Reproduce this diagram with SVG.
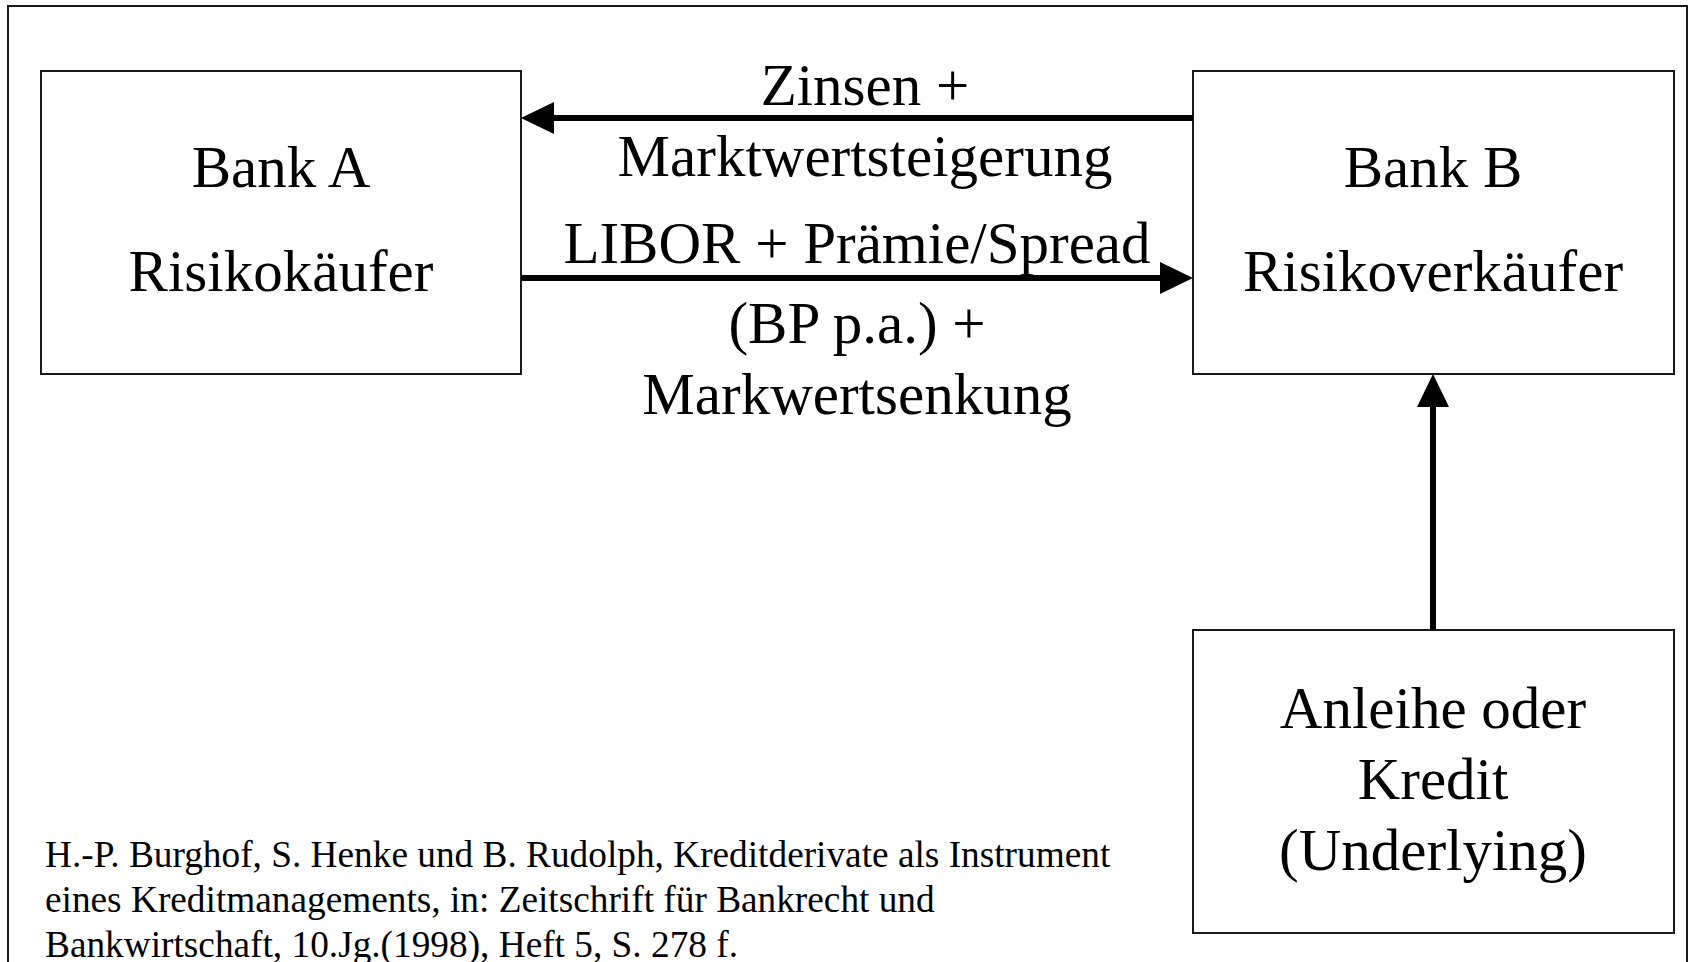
<svg xmlns="http://www.w3.org/2000/svg" width="1692" height="962" viewBox="0 0 1692 962">
  <style>
    .frame { fill: none; stroke: #1a1a1a; stroke-width: 2; }
    .box { fill: #ffffff; stroke: #1a1a1a; stroke-width: 2; }
    .big { font-family: "Liberation Serif", "Times New Roman", serif; font-size: 59px; fill: #000; text-anchor: middle; }
    .note { font-family: "Liberation Serif", "Times New Roman", serif; font-size: 37.3px; fill: #000; }
    .flow { stroke: #000; stroke-width: 6; fill: none; marker-end: url(#head); }
  </style>
  <defs>
    <marker id="head" markerUnits="userSpaceOnUse" markerWidth="33" markerHeight="32" refX="0" refY="16" orient="auto" viewBox="0 0 33 32">
      <path d="M0,0 L33,16 L0,32 Z" fill="#000"/>
    </marker>
  </defs>

  <rect class="frame" x="8" y="6" width="1679" height="970"/>

  <g id="bank-a">
    <rect class="box" x="41" y="71" width="480" height="303"/>
    <text class="big" x="281" y="187">Bank A</text>
    <text class="big" x="281" y="291">Risikokäufer</text>
  </g>

  <g id="bank-b">
    <rect class="box" x="1193" y="71" width="481" height="303"/>
    <text class="big" x="1433" y="187">Bank B</text>
    <text class="big" x="1433" y="291">Risikoverkäufer</text>
  </g>

  <g id="underlying">
    <rect class="box" x="1193" y="630" width="481" height="303"/>
    <text class="big" x="1433" y="728">Anleihe oder</text>
    <text class="big" x="1433" y="799">Kredit</text>
    <text class="big" x="1433" y="870">(Underlying)</text>
  </g>

  <g id="connectors">
    <line class="flow" x1="1193" y1="118" x2="554" y2="118"/>
    <line class="flow" x1="521" y1="278" x2="1160" y2="278"/>
    <line class="flow" x1="1433" y1="630" x2="1433" y2="407"/>
  </g>

  <g id="labels">
    <text class="big" x="865" y="105">Zinsen +</text>
    <text class="big" x="865" y="176">Marktwertsteigerung</text>
    <text class="big" x="857" y="263">LIBOR + Prämie/Spread</text>
    <text class="big" x="857" y="343">(BP p.a.) +</text>
    <text class="big" x="857" y="414">Markwertsenkung</text>
  </g>

  <g id="source">
    <text class="note" x="45" y="867">H.-P. Burghof, S. Henke und B. Rudolph, Kreditderivate als Instrument</text>
    <text class="note" x="45" y="912">eines Kreditmanagements, in: Zeitschrift für Bankrecht und</text>
    <text class="note" x="45" y="957">Bankwirtschaft, 10.Jg.(1998), Heft 5, S. 278 f.</text>
  </g>
</svg>
